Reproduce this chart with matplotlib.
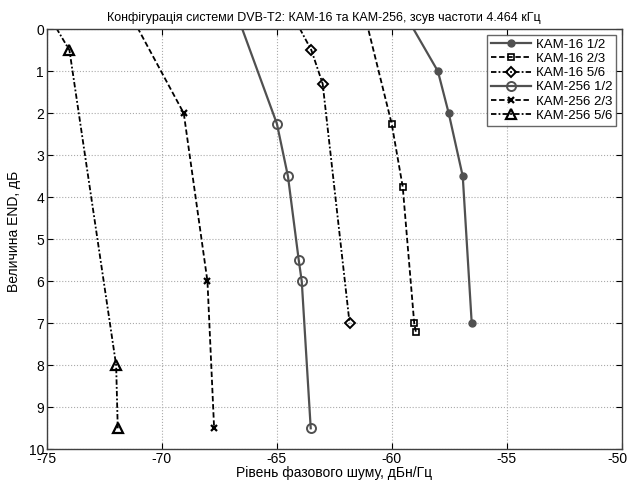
import matplotlib
matplotlib.use("Agg")
import matplotlib.pyplot as plt
import matplotlib.transforms as mtransforms

plt.rcParams['font.family'] = ['Liberation Sans', 'DejaVu Sans']
plt.rcParams['axes.unicode_minus'] = False

# Data: phase noise level (dBc/Hz) vs END (dB); first point of each curve lies above the axis (clipped)
kam16_12_x = [-60.1, -57.99, -57.52, -56.91, -56.52]
kam16_12_y = [-1.0, 1.0, 2.0, 3.5, 7.0]

kam16_23_x = [-61.47, -60.0, -59.52, -59.02, -58.95]
kam16_23_y = [-1.0, 2.25, 3.75, 7.0, 7.2]

kam16_56_x = [-64.47, -63.49, -63.0, -61.83]
kam16_56_y = [-0.5, 0.5, 1.3, 7.0]

kam256_12_x = [-67.16, -64.99, -64.51, -64.04, -63.91, -63.52]
kam256_12_y = [-1.0, 2.25, 3.5, 5.5, 6.0, 9.5]

kam256_23_x = [-72.0, -69.04, -68.01, -67.72]
kam256_23_y = [-1.0, 2.0, 6.0, 9.5]

kam256_56_x = [-75.09, -74.01, -71.98, -71.91]
kam256_56_y = [-0.5, 0.5, 8.0, 9.5]

labels = ['КАМ-16 1/2', 'КАМ-16 2/3', 'КАМ-16 5/6',
          'КАМ-256 1/2', 'КАМ-256 2/3', 'КАМ-256 5/6']

gray = '#505050'

fig = plt.figure(figsize=(6.3, 4.8), dpi=100)
ax = fig.add_axes([0.0741, 0.064, 0.9127, 0.875])

ax.plot(kam16_12_x, kam16_12_y, '-', color=gray, lw=1.6, marker='o', ms=5,
        mfc=gray, mec=gray, label=labels[0])
ax.plot(kam16_23_x, kam16_23_y, '--', color='black', lw=1.3, marker='s', ms=4.5,
        mfc='none', mec='black', mew=1.2, dashes=(3, 1.5), label=labels[1])
ax.plot(kam16_56_x, kam16_56_y, '-.', color='black', lw=1.3, marker='D', ms=5,
        mfc='none', mec='black', mew=1.4, dashes=(3, 1.2, 1, 1.2), label=labels[2])
ax.plot(kam256_12_x, kam256_12_y, '-', color=gray, lw=1.6, marker='o', ms=6.5,
        mfc='none', mec=gray, mew=1.4, label=labels[3])
ax.plot(kam256_23_x, kam256_23_y, '--', color='black', lw=1.3, marker='x', ms=4.5,
        mfc='none', mec='black', mew=1.6, dashes=(3, 1.5), label=labels[4])
ax.plot(kam256_56_x, kam256_56_y, '-.', color='black', lw=1.3, marker='^', ms=7,
        mfc='none', mec='black', mew=1.6, dashes=(3, 1.2, 1, 1.2), label=labels[5])

ax.set_xlim(-75, -50)
ax.set_ylim(10, 0)
ax.set_xticks([-75, -70, -65, -60, -55, -50])
ax.set_yticks(range(0, 11))
ax.grid(True, linestyle=':', color='#aaaaaa', lw=0.8)
ax.tick_params(direction='in', top=True, right=True, labelsize=10, length=4, pad=2)
for s in ax.spines.values():
    s.set_color('#404040')
    s.set_linewidth(1.0)

# keep the last x tick label inside the figure
last = ax.get_xticklabels()[-1]
last.set_transform(last.get_transform() + mtransforms.ScaledTranslation(-0.04, 0, fig.dpi_scale_trans))

ax.set_title('Конфігурація системи DVB-T2: КАМ-16 та КАМ-256, зсув частоти 4.464 кГц',
             fontsize=9, pad=6, x=(323.5 - 46.7) / 575)
ax.set_xlabel('Рівень фазового шуму, дБн/Гц', fontsize=10, labelpad=0)
ax.set_ylabel('Величина END, дБ', fontsize=10, labelpad=8)
ax.yaxis.set_label_coords(-0.045, 0.52)

leg = ax.legend(loc='upper right', fontsize=9.5, frameon=True, fancybox=False,
                edgecolor='#404040', borderpad=0.3, labelspacing=0.15,
                handlelength=3.0, handletextpad=0.4, borderaxespad=0.4)
leg.get_frame().set_linewidth(1.0)

fig.savefig('out.png', dpi=100)
